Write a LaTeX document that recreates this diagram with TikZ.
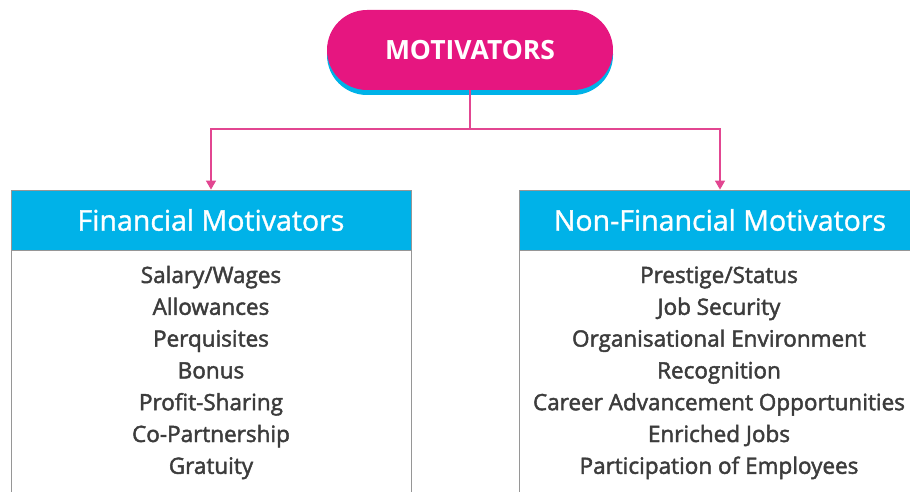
\documentclass[tikz,border=0pt]{standalone}
\usepackage{fontspec}
\setmainfont{Open Sans}
\newfontfamily\semifont{Open Sans}[FakeBold=2]
\newfontfamily\medfont{Open Sans}[FakeBold=1.2]
\usetikzlibrary{arrows.meta}
\definecolor{mpink}{RGB}{230,22,128}
\definecolor{mline}{RGB}{226,70,145}
\definecolor{mcyan}{RGB}{0,178,232}
\definecolor{mgray}{RGB}{150,150,150}
\definecolor{mtext}{RGB}{60,60,60}
\tikzset{
  pill/.style={fill=mpink, rounded corners=40pt, minimum width=286pt, minimum height=80pt,
    text=white, font=\bfseries\fontsize{26.5}{32}\selectfont, inner sep=0pt},
  headbox/.style={fill=mcyan, draw=mgray, line width=0.8pt, minimum height=60pt,
    text=white, font=\medfont\fontsize{28.5}{32}\selectfont, inner sep=0pt},
  item/.style={text=mtext, font=\semifont\fontsize{22.5}{26}\selectfont, inner sep=0pt, anchor=base},
  link/.style={draw=mline, line width=1.4pt, -{Triangle[length=9pt,width=10pt]}}
}
\begin{document}
\begin{tikzpicture}[x=1pt,y=-1pt]
\useasboundingbox (0,0) rectangle (910,492);
\clip (0,0) rectangle (910,492);
% top pill with cyan shadow underneath
\fill[mcyan, rounded corners=40pt] (327,14) rectangle (613,95);
\node[pill] (top) at (470,50) {MOTIVATORS};
% panel bodies
\draw[mgray, line width=0.8pt, fill=white] (11,250) rectangle (411,520);
\draw[mgray, line width=0.8pt, fill=white] (519,250) rectangle (921,520);
% panel headers
\node[headbox, minimum width=400pt] (fin) at (211,220) {Financial Motivators};
\node[headbox, minimum width=402pt] (nonfin) at (720,220) {Non-Financial Motivators};
% item lists, one line each
\foreach \txt [count=\i] in {Salary/Wages,Allowances,Perquisites,Bonus,Profit-Sharing,Co-Partnership,Gratuity}
  \node[item] (fin-\i) at (211,{283+31.8*(\i-1)}) {\txt};
\foreach \txt [count=\i] in {Prestige/Status,Job Security,Organisational Environment,Recognition,Career Advancement Opportunities,Enriched Jobs,Participation of Employees}
  \node[item] (nonfin-\i) at (719,{283+31.8*(\i-1)}) {\txt};
% connectors
\coordinate (split) at (470,129);
\draw[mline, line width=1.4pt] (top.south) -- (split);
\draw[link] (split) -| (fin.north);
\draw[link] (split) -| (nonfin.north);
\end{tikzpicture}
\end{document}
